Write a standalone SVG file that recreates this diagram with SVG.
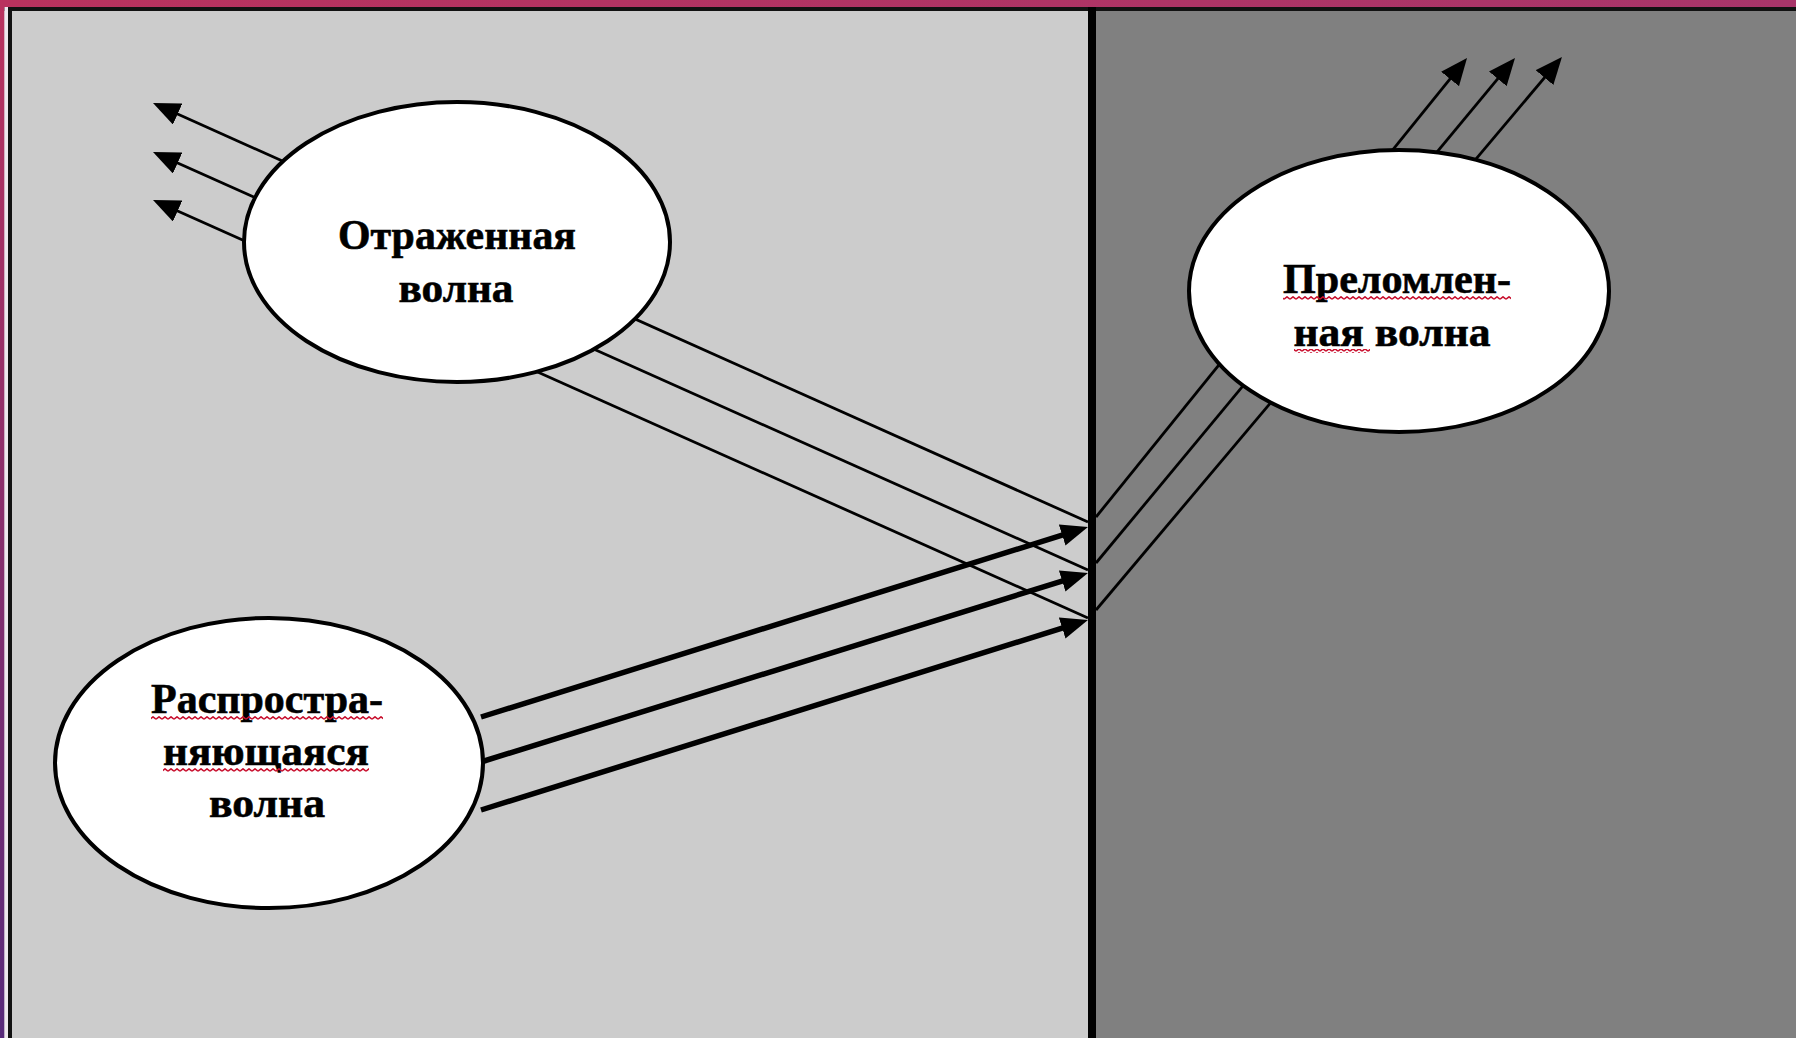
<svg xmlns="http://www.w3.org/2000/svg" width="1796" height="1038" viewBox="0 0 1796 1038">
<style>
.node ellipse{fill:#ffffff;stroke:#000000;stroke-width:4}
.lbl{font-family:"Liberation Serif","Times New Roman",serif;font-weight:bold;font-size:42px;fill:#000000;stroke:#000000;stroke-width:0.6;text-anchor:middle}
.thin{stroke:#000000;stroke-width:2.8;fill:none}
.thick{stroke:#000000;stroke-width:5.5;fill:none}
.wave{fill:url(#wavy)}
</style>
<defs>
<linearGradient id="topg" x1="0" y1="0" x2="1" y2="0">
<stop offset="0" stop-color="#b9325e"/>
<stop offset="1" stop-color="#a8356a"/>
</linearGradient>
<linearGradient id="leftg" x1="0" y1="0" x2="0" y2="1">
<stop offset="0" stop-color="#b9325e"/>
<stop offset="1" stop-color="#582a7a"/>
</linearGradient>
<marker id="ah" markerUnits="userSpaceOnUse" markerWidth="27" markerHeight="23" viewBox="0 0 27 23" refX="19" refY="11.5" orient="auto">
<path d="M0 0 L27 11.5 L0 23 z" fill="#000"/>
</marker>
<marker id="ahb" markerUnits="userSpaceOnUse" markerWidth="27" markerHeight="22" viewBox="0 0 27 22" refX="15" refY="11" orient="auto">
<path d="M0 0 L27 11 L0 22 z" fill="#000"/>
</marker>
<pattern id="wavy" patternUnits="userSpaceOnUse" width="6" height="4">
<path d="M0 3.2 L3 0.8 L6 3.2" fill="none" stroke="#c8102e" stroke-width="1.5"/>
</pattern>
</defs>

<g id="background">
<rect x="0" y="0" width="1796" height="1038" fill="#cccccc"/>
<rect x="1096" y="0" width="700" height="1038" fill="#808080"/>
<rect x="0" y="0" width="1796" height="7" fill="url(#topg)"/>
<rect x="0" y="7" width="1796" height="4" fill="#111111"/>
<rect x="0" y="0" width="4.5" height="1038" fill="url(#leftg)"/>
<rect x="4.5" y="7" width="3.5" height="1031" fill="#eee8ee"/>
<rect x="8" y="7" width="4" height="1031" fill="#111111"/>
</g>

<g id="connectors">
<path class="thin" d="M1088 522 L160.3 106.3" marker-end="url(#ah)"/>
<path class="thin" d="M1088 570 L160.3 155.3" marker-end="url(#ah)"/>
<path class="thin" d="M1088 618 L160.3 203.3" marker-end="url(#ah)"/>
<path class="thick" d="M481 717 L1076.5 530.6" marker-end="url(#ahb)"/>
<path class="thick" d="M481 762 L1076.5 576.6" marker-end="url(#ahb)"/>
<path class="thick" d="M481 810 L1076.5 623.6" marker-end="url(#ahb)"/>
<path class="thin" d="M1096 517 L1462 64.2" marker-end="url(#ah)"/>
<path class="thin" d="M1096 563 L1509.9 64.2" marker-end="url(#ah)"/>
<path class="thin" d="M1096 610 L1556.8 63.1" marker-end="url(#ah)"/>
</g>

<g id="divider">
<rect x="1088" y="7" width="8" height="1031" fill="#000000"/>
</g>

<g id="node-reflected" class="node">
<ellipse cx="457" cy="242" rx="213" ry="140"/>
<text class="lbl" x="457" y="249" textLength="238" lengthAdjust="spacingAndGlyphs">Отраженная</text>
<text class="lbl" x="456" y="302" textLength="115" lengthAdjust="spacingAndGlyphs">волна</text>
</g>

<g id="node-incident" class="node">
<ellipse cx="269" cy="763" rx="214" ry="145"/>
<text class="lbl" x="267" y="713" textLength="232" lengthAdjust="spacingAndGlyphs">Распростра-</text>
<rect class="wave" x="151" y="716" width="232" height="4"/>
<text class="lbl" x="266" y="765" textLength="206" lengthAdjust="spacingAndGlyphs">няющаяся</text>
<rect class="wave" x="163" y="768" width="206" height="4"/>
<text class="lbl" x="267" y="817" textLength="116" lengthAdjust="spacingAndGlyphs">волна</text>
</g>

<g id="node-refracted" class="node">
<ellipse cx="1399" cy="291" rx="210" ry="141"/>
<text class="lbl" x="1397" y="293" textLength="228" lengthAdjust="spacingAndGlyphs">Преломлен-</text>
<rect class="wave" x="1283" y="296" width="228" height="4"/>
<text class="lbl" x="1392" y="346" textLength="197" lengthAdjust="spacingAndGlyphs">ная волна</text>
<rect class="wave" x="1294" y="349" width="76" height="4"/>
</g>
</svg>
